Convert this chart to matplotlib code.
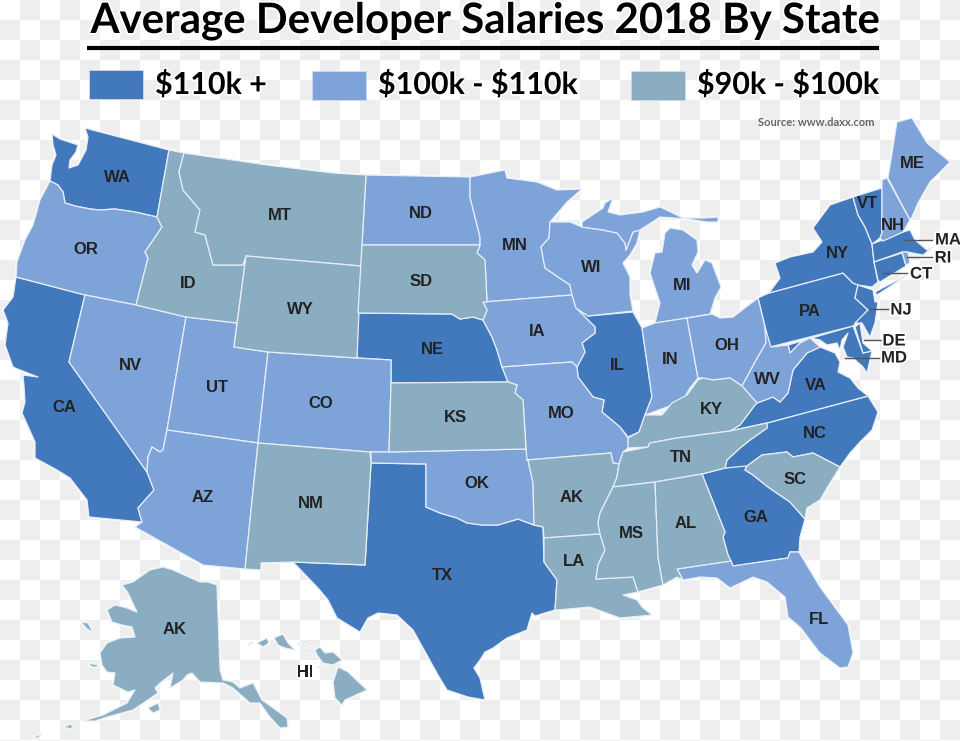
import matplotlib
matplotlib.use("Agg")
import matplotlib.pyplot as plt
import matplotlib.patheffects as pe
import numpy as np

# state outlines (x, y in picture units)
WA = [(85,128),(88,137),(86,150),(78,165),(69,168),(70,160),(76,152),(78,145),(72,143),(60,139),(52,134),(53,145),(56,155),(52,165),(50,181),(58,185),(63,192),(65,203),(75,206),(90,209),(100,210),(115,209),(135,212),(157,217),(169,150)]
OR = [(50,181),(58,185),(63,192),(65,203),(75,206),(90,209),(100,210),(115,209),(135,212),(157,217),(162,227),(145,252),(148,258),(136,305),(85,295),(16,277),(17,262),(25,240),(33,225),(40,200)]
CA = [(16,277),(85,295),(69,362),(147,472),(154,490),(138,508),(142,522),(89,517),(87,500),(70,478),(57,470),(35,458),(35,442),(22,413),(25,402),(24,386),(23,375),(38,377),(20,370),(13,367),(5,345),(8,323),(3,310),(13,297)]
NV = [(85,295),(136,305),(186,317),(167,430),(163,450),(160,452),(152,447),(148,457),(147,472),(69,362)]
ID = [(169,150),(184,153),(179,172),(183,190),(200,210),(195,232),(205,235),(213,265),(243,265),(246,256),(237,323),(186,317),(136,305),(148,258),(145,252),(162,227),(157,217)]
MT = [(184,153),(267,165),(333,173),(366,175),(362,245),(361,266),(246,256),(243,265),(213,265),(205,235),(195,232),(200,210),(183,190),(179,172)]
WY = [(246,256),(361,266),(357,358),(268,352),(234,347)]
UT = [(186,317),(237,323),(234,347),(268,352),(258,443),(167,430)]
AZ = [(167,430),(258,443),(245,569),(203,565),(135,527),(142,522),(138,508),(154,490),(147,472),(148,457),(152,447),(160,452),(163,450)]
CO = [(268,352),(357,358),(391,360),(391,383),(389,452),(370,452),(258,443)]
NM = [(258,443),(370,452),(371,463),(365,565),(293,562),(261,563),(261,570),(245,569)]
ND = [(366,175),(470,177),(470,197),(480,237),(480,245),(362,245)]
SD = [(362,245),(480,245),(477,253),(485,260),(487,302),(483,302),(487,310),(483,320),(473,317),(460,319),(452,314),(358,313)]
NE = [(358,313),(452,314),(460,319),(473,317),(483,320),(492,337),(497,350),(502,367),(508,382),(391,383),(391,360),(357,358)]
KS = [(391,383),(508,382),(517,385),(515,393),(523,400),(526,449),(389,452)]
OK = [(371,452),(389,452),(526,449),(528,460),(533,483),(534,525),(518,519),(498,525),(482,525),(467,523),(457,518),(440,513),(426,507),(426,464),(371,463)]
TX = [(371,463),(426,464),(426,507),(440,513),(457,518),(467,523),(482,525),(498,525),(518,519),(534,525),(543,527),(544,562),(557,580),(555,610),(535,616),(532,613),(529,623),(527,630),(507,638),(493,648),(485,652),(480,660),(474,668),(480,678),(485,700),(468,697),(447,690),(438,675),(413,630),(397,615),(378,613),(368,618),(360,632),(337,618),(328,600),(318,588),(293,562),(365,565)]
MN = [(470,177),(505,170),(507,178),(537,182),(557,190),(582,189),(567,202),(550,222),(549,238),(541,247),(545,268),(570,285),(572,295),(483,302),(487,302),(485,260),(477,253),(480,245),(480,237),(470,197)]
IA = [(483,302),(572,295),(576,308),(595,327),(595,333),(582,343),(585,352),(577,367),(572,362),(502,367),(497,350),(492,337),(483,320),(487,310)]
MO = [(502,367),(572,362),(577,367),(578,377),(593,397),(604,400),(602,412),(620,427),(628,438),(628,448),(623,452),(619,464),(613,463),(611,453),(527,460),(526,449),(523,400),(515,393),(517,385),(508,382)]
AR = [(527,460),(611,453),(613,463),(619,464),(617,477),(613,487),(608,497),(600,513),(598,523),(600,534),(544,538),(543,527),(534,525),(533,483),(528,460)]
LA = [(544,538),(600,534),(605,550),(598,565),(596,579),(633,577),(638,592),(623,595),(637,600),(642,607),(652,615),(620,618),(590,607),(557,610),(555,610),(557,580),(544,562)]
WI = [(550,222),(570,222),(582,227),(603,230),(617,233),(625,243),(626,250),(633,232),(640,230),(637,243),(630,255),(623,263),(630,277),(630,295),(633,311),(588,316),(576,308),(572,295),(570,285),(545,268),(541,247),(549,238)]
MI_UP = [(582,227),(582,222),(603,208),(605,203),(613,198),(608,212),(620,215),(643,212),(660,207),(673,213),(683,218),(705,218),(718,217),(718,222),(707,222),(687,219),(660,217),(640,230),(633,232),(626,250),(625,243),(617,233),(603,230)]
MI_LP = [(670,228),(683,230),(697,240),(698,252),(692,265),(697,273),(705,260),(712,263),(721,287),(715,298),(710,314),(687,318),(655,323),(660,303),(650,273),(655,253),(662,252),(665,233)]
IL = [(588,316),(633,312),(642,328),(650,383),(652,397),(645,415),(639,432),(628,437),(620,427),(602,412),(604,400),(593,397),(578,377),(577,367),(585,352),(582,343),(595,333),(595,327),(576,308)]
IN = [(642,328),(655,323),(687,318),(698,378),(690,388),(683,400),(667,407),(645,415),(652,397),(650,383)]
OH = [(687,318),(712,314),(720,318),(733,317),(758,298),(765,327),(766,343),(755,362),(747,377),(742,386),(730,378),(713,380),(703,378),(698,378)]
KY = [(628,448),(628,438),(639,432),(645,415),(662,415),(672,403),(687,395),(698,380),(703,378),(713,380),(730,378),(742,386),(757,403),(755,405),(740,425),(730,431),(677,438),(650,443),(648,447)]
TN = [(623,452),(648,447),(650,443),(677,438),(730,431),(767,423),(767,428),(750,440),(740,448),(727,460),(725,468),(702,474),(655,482),(613,487),(617,477),(619,464)]
MS = [(613,487),(655,482),(658,557),(663,585),(638,592),(633,577),(596,579),(598,565),(605,550),(600,534),(598,523),(600,513),(608,497)]
AL = [(655,482),(702,474),(725,532),(723,537),(728,555),(731,561),(677,569),(683,580),(677,577),(663,585),(658,557)]
GA = [(702,474),(725,468),(747,465),(745,470),(753,475),(768,487),(790,502),(805,519),(800,537),(799,552),(790,552),(788,558),(733,566),(728,555),(723,537),(725,532)]
SC = [(747,466),(762,455),(787,452),(793,457),(813,453),(840,467),(830,483),(820,500),(807,508),(805,519),(790,502),(768,487),(753,475),(745,470)]
NC = [(767,423),(868,396),(878,412),(872,430),(860,442),(850,453),(840,467),(813,453),(793,457),(787,452),(762,455),(747,466),(725,468),(727,460),(740,448),(750,440),(767,428)]
FL = [(677,569),(731,561),(733,566),(788,558),(790,552),(799,552),(820,587),(848,625),(853,653),(848,667),(840,668),(820,653),(800,627),(788,617),(785,597),(767,582),(753,577),(730,588),(717,578),(700,577),(683,580)]
VA = [(820,347),(835,353),(840,362),(838,372),(850,378),(858,388),(868,396),(767,423),(730,431),(740,425),(755,405),(757,403),(773,397),(780,402),(788,393),(793,370),(807,353)]
WV = [(765,327),(771,347),(788,345),(790,353),(800,343),(810,338),(820,347),(807,353),(793,370),(788,393),(780,402),(773,397),(757,403),(742,386),(747,377),(755,362),(766,343)]
MD = [(788,345),(853,326),(863,353),(872,351),(870,360),(867,373),(863,367),(853,358),(847,357),(843,347),(848,333),(842,340),(840,350),(837,343),(827,345),(820,340),(810,338),(800,343),(790,353)]
DE = [(855,327),(860,323),(863,343),(872,351),(863,353)]
PA = [(758,298),(769,293),(843,273),(853,283),(858,285),(855,298),(868,310),(853,326),(770,347)]
NJ = [(858,285),(873,290),(875,302),(878,302),(875,323),(870,337),(862,323),(855,323),(868,310),(855,298)]
NY = [(769,293),(780,278),(775,263),(790,257),(813,252),(822,242),(813,228),(830,205),(853,197),(858,215),(865,227),(872,244),(874,262),(878,282),(872,287),(858,285),(853,283),(843,273)]
NY_LI = [(875,292),(907,275),(897,282),(877,295)]
VT = [(853,197),(882,188),(882,233),(880,238),(872,244),(865,227),(858,215)]
NH = [(882,180),(887,178),(910,220),(903,232),(883,241),(880,238),(882,233)]
ME = [(888,178),(892,153),(897,122),(912,118),(927,143),(950,162),(930,182),(918,203),(912,217),(910,220)]
MA = [(872,244),(903,232),(910,230),(915,240),(927,250),(933,247),(923,255),(907,252),(902,252),(874,262)]
RI = [(902,252),(908,252),(910,263),(906,265)]
CT = [(874,262),(902,253),(906,266),(880,282),(878,280)]
AK_MAIN = [(217,585),(220,670),(223,680),(233,682),(240,688),(253,683),(262,700),(287,718),(288,727),(280,728),(270,717),(260,703),(250,703),(233,688),(223,683),(200,682),(192,673),(187,675),(183,680),(170,688),(173,673),(160,683),(155,688),(158,693),(133,710),(107,717),(95,721),(83,721),(103,715),(127,703),(135,690),(128,692),(113,685),(115,673),(107,672),(102,665),(100,653),(107,643),(120,638),(135,637),(132,627),(122,625),(112,622),(107,610),(115,605),(127,608),(137,612),(128,593),(122,585),(133,582),(150,570),(163,567),(173,570),(200,582),(208,582)]
AK_KODIAK = [(148,708),(158,703),(160,710),(153,713)]
AK_NUNIVAK = [(88,663),(98,665),(97,667),(92,667)]
AK_LAWRENCE = [(81,622),(88,623),(93,632),(87,629)]
AK_ALEUT1 = [(63,727),(72,724),(72,729)]
AK_ALEUT2 = [(33,738),(42,733),(38,738)]
HI_NIIHAU = [(248,645),(252,642),(252,644)]
HI_KAUAI = [(257,643),(267,638),(269,643),(263,647)]
HI_OAHU = [(274,638),(283,634),(288,643),(295,650),(285,648),(278,645)]
HI_MOLOKAI = [(298,644),(313,647),(307,647)]
HI_LANAI = [(307,655),(312,655),(310,657)]
HI_MAUI = [(315,650),(320,647),(325,653),(333,652),(342,660),(333,665),(323,663),(317,655)]
HI_KAHO = [(318,667),(322,666),(320,668)]
HI_BIG = [(338,667),(348,672),(367,690),(345,700),(342,705),(335,698),(333,682)]

tier_110 = [WA, CA, NE, TX, IL, GA, NC, VA, MD, DE, PA, NJ, NY, NY_LI, VT, MA, CT]
tier_100 = [OR, NV, UT, AZ, CO, ND, OK, MN, IA, MO, WI, MI_UP, MI_LP, IN, OH, FL, WV, ME, NH, RI]
tier_90 = [ID, MT, WY, NM, SD, KS, AR, LA, KY, TN, MS, AL, SC, AK_MAIN, AK_KODIAK, AK_NUNIVAK,
           AK_LAWRENCE, AK_ALEUT1, AK_ALEUT2, HI_NIIHAU, HI_KAUAI, HI_OAHU, HI_MOLOKAI, HI_LANAI,
           HI_MAUI, HI_KAHO, HI_BIG]

legend_labels = ["$110k +", "$100k - $110k", "$90k - $100k"]
legend_colors = ["#4279bd", "#7da3d8", "#8aadc1"]

# inside labels and where they sit
labels = ["WA","OR","CA","NV","ID","MT","WY","UT","CO","AZ","NM","ND","SD","NE","KS","OK","TX","MN","IA","MO",
          "AK","LA","WI","IL","MS","AL","TN","KY","IN","OH","MI","WV","VA","NC","SC","GA","FL","PA","NY","ME",
          "VT","NH","AK","HI"]
label_x = [117,86,64,130,188,280,300,217,321,203,311,421,421,432,455,477,442,515,537,561,
           572,574,591,617,631,686,681,711,670,727,682,767,816,815,795,756,819,810,837,912,
           867,893,175,305]
label_y = [178,249,407,365,284,216,309,388,403,498,504,214,281,350,418,484,576,245,332,414,
           497,562,268,366,533,524,458,410,360,345,286,379,386,433,479,517,620,312,254,164,
           204,225,629,672]

# small states labelled outside with a leader line
out_labels = ["MA","RI","CT","NJ","DE","MD"]
out_x = [948,943,921,901,894,894]
out_y = [240,258,274,310,341,358]
line_x0 = [905,907,883,870,864,845]
line_x1 = [932,932,907,888,881,881]
line_y = [240,257,273,309,340,358]

fig = plt.figure(figsize=(9.6, 7.41), dpi=100)
ax = fig.add_axes([0, 0, 1, 1])

# checker backdrop, 20 px squares
yy, xx = np.indices((38, 48))
checker = (xx + yy) % 2
ax.imshow(checker, cmap=matplotlib.colors.ListedColormap(["white", "#eeeeee"]),
          extent=(0, 960, 760, 0), interpolation="nearest", zorder=0)
ax.set_xlim(0, 960)
ax.set_ylim(741, 0)
ax.axis("off")

# white halo under the map, then the states
for tier in [tier_110, tier_100, tier_90]:
    for shape in tier:
        xs, ys = zip(*shape)
        ax.fill(xs, ys, facecolor="white", edgecolor="white", linewidth=1.8, joinstyle="round", zorder=1)
for tier, color in zip([tier_110, tier_100, tier_90], legend_colors):
    for shape in tier:
        xs, ys = zip(*shape)
        ax.fill(xs, ys, facecolor=color, edgecolor="#e6edf5", linewidth=0.9, joinstyle="round", zorder=2)

halo = [pe.withStroke(linewidth=2.5, foreground="white")]

for name, x, y in zip(labels, label_x, label_y):
    t = ax.text(x, y, name, ha="center", va="center", fontsize=12, fontweight="bold",
                family="Liberation Sans", color="#222222", zorder=4)
    if name == "HI":
        t.set_path_effects(halo)

for x0, x1, y in zip(line_x0, line_x1, line_y):
    ax.plot([x0, x1], [y, y], color="#555555", linewidth=1.0, zorder=3)
for name, x, y in zip(out_labels, out_x, out_y):
    ax.text(x, y, name, ha="center", va="center", fontsize=12, fontweight="bold",
            family="Liberation Sans", color="#222222", zorder=4, path_effects=halo)

# title and rule
ax.text(484, 33, "Average Developer Salaries 2018 By State", ha="center", va="baseline", fontsize=30.2,
        fontweight="bold", family="Lato", color="black", zorder=5, path_effects=halo)
ax.plot([87, 879], [48, 48], color="black", linewidth=3, solid_capstyle="butt", zorder=5)

# legend
box_x = [89, 312, 631]
box_y = [70, 71, 71]
text_x = [155, 378, 697]
for bx, by, tx, name, color in zip(box_x, box_y, text_x, legend_labels, legend_colors):
    ax.fill([bx, bx + 54, bx + 54, bx], [by, by, by + 29, by + 29], facecolor=color,
            edgecolor="#cfdcec", linewidth=0.6, zorder=5)
    ax.text(tx, 94, name.replace("$", r"\$"), ha="left", va="baseline", fontsize=21.9, fontweight="bold",
            family="Lato", color="black", zorder=5, path_effects=halo)

ax.text(875, 122, "Source: www.daxx.com", ha="right", va="center", fontsize=8, fontweight="bold",
        family="Lato", color="#666666", zorder=5)

plt.savefig("out.png", dpi=100)
